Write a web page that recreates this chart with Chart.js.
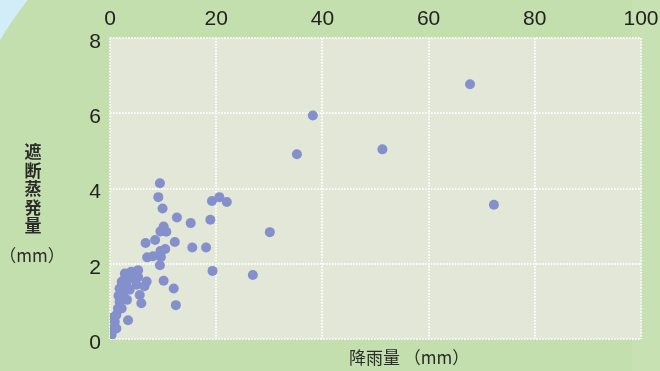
<!DOCTYPE html>
<html>
<head>
<meta charset="utf-8">
<script src="https://cdn.jsdelivr.net/npm/chart.js@4.4.1/dist/chart.umd.min.js"></script>
<style>
  html, body { margin: 0; padding: 0; background: #c4dfae; }
  #wrap { width: 660px; height: 371px; }
</style>
</head>
<body>
<div id="wrap"><canvas id="c" width="660" height="371"></canvas></div>
<script>
// 降雨量 (mm) per event
const rainfall = [
  2.8, 4.0, 5.3, 2.8, 2.2, 3.1, 4.3, 5.3, 1.8, 2.5,
  5.6, 5.9, 1.8, 1.5, 1.2, 2.2, 0.9, 0.6, 0.3, 1.2,
  3.4, 0.3, 6.9, 6.5, 5.0, 2.6, 3.2, 0.5, 1.6, 3.7,
  9.4, 9.1, 9.9, 12.6, 15.2, 18.9, 19.2, 20.6, 22.0, 10.1,
  9.5, 10.6, 8.5, 6.7, 12.2, 15.5, 18.1, 9.5, 10.4, 7.0,
  8.1, 9.6, 9.4, 10.1, 12.0, 12.4, 19.3, 26.9, 30.1, 35.2,
  38.2, 51.3, 67.8, 72.3
];
// 遮断蒸発量 (mm) per event
const interception = [
  1.74, 1.79, 1.83, 1.61, 1.52, 1.43, 1.61, 1.65, 1.34, 1.21,
  1.17, 0.95, 0.99, 0.81, 0.64, 0.81, 0.46, 0.28, 0.11, 0.28,
  0.50, 0.19, 1.53, 1.40, 1.44, 1.10, 1.04, 0.57, 1.15, 1.31,
  4.14, 3.77, 3.47, 3.23, 3.08, 3.17, 3.67, 3.77, 3.64, 2.99,
  2.86, 2.85, 2.63, 2.55, 2.58, 2.43, 2.43, 2.34, 2.39, 2.17,
  2.20, 2.18, 1.96, 1.55, 1.34, 0.90, 1.81, 1.70, 2.84, 4.91,
  5.94, 5.04, 6.77, 3.57
];
const xTicks = [0, 20, 40, 60, 80, 100];
const yTicks = [0, 2, 4, 6, 8];

const xTitle = '降雨量 （mm）';
const yTitleChars = ['遮', '断', '蒸', '発', '量'];
const yTitleUnit = '（mm）';

const points = rainfall.map((x, i) => ({ x: x, y: interception[i] }));

// page backdrop, plot panel and axis titles
const backdrop = {
  id: 'backdrop',
  beforeDraw(chart) {
    const ctx = chart.ctx;
    const W = chart.width, H = chart.height;
    const a = chart.chartArea;
    ctx.save();
    ctx.fillStyle = '#c4dfae';
    ctx.fillRect(0, 0, W, H);
    ctx.fillStyle = '#c7e1b2';
    ctx.fillRect(632, 0, W - 632, H);
    // pale blue corner outside the big arc
    ctx.save();
    ctx.beginPath();
    ctx.rect(0, 0, 120, 120);
    ctx.clip();
    ctx.beginPath();
    ctx.rect(0, 0, 120, 120);
    ctx.arc(320, 230, 372, 0, Math.PI * 2);
    ctx.fillStyle = '#d3edf8';
    ctx.fill('evenodd');
    ctx.restore();
    ctx.fillStyle = '#e3e7d8';
    ctx.fillRect(a.left, a.top, a.right - a.left, a.bottom - a.top);
    ctx.restore();
  },
  afterDraw(chart) {
    const ctx = chart.ctx;
    ctx.save();
    ctx.fillStyle = '#2b2b2b';
    ctx.font = '17px "Noto Sans CJK JP", "Noto Sans", sans-serif';
    ctx.textBaseline = 'middle';
    ctx.textAlign = 'left';
    ctx.fillText(xTitle, 349, 358);
    ctx.textAlign = 'center';
    ctx.font = 'bold 17px "Noto Sans CJK JP", "Noto Sans", sans-serif';
    yTitleChars.forEach((ch, i) => ctx.fillText(ch, 33, 152 + i * 18.5));
    ctx.font = '17px "Noto Sans CJK JP", "Noto Sans", sans-serif';
    ctx.fillText(yTitleUnit, 32, 256);
    ctx.restore();
  }
};

const gridStyle = {
  color: '#ffffff',
  lineWidth: 2,
  drawTicks: false
};
// dotted white grid lines; the axis edge lines themselves are hidden
const borderStyle = { display: false, dash: [1.5, 1.5] };

new Chart(document.getElementById('c'), {
  type: 'scatter',
  data: {
    datasets: [{
      data: points,
      backgroundColor: '#8490cc',
      borderWidth: 0,
      pointRadius: 5,
      pointHoverRadius: 5
    }]
  },
  options: {
    responsive: false,
    animation: false,
    events: [],
    layout: { padding: { left: 0, right: 19, top: 0, bottom: 32 } },
    plugins: { legend: { display: false }, tooltip: { enabled: false } },
    scales: {
      x: {
        type: 'linear',
        position: 'top',
        min: 0,
        max: 100,
        afterBuildTicks: s => { s.ticks = xTicks.map(v => ({ value: v })); },
        afterFit: s => { s.height = 38; s.paddingLeft = 0; s.paddingRight = 0; },
        grid: gridStyle,
        border: borderStyle,
        ticks: {
          padding: 6,
          color: '#222222',
          font: { family: '"Liberation Sans", Arial, sans-serif', size: 21 }
        }
      },
      y: {
        type: 'linear',
        min: 0,
        max: 8,
        afterBuildTicks: s => { s.ticks = yTicks.map(v => ({ value: v })); },
        afterFit: s => { s.width = 110; s.paddingTop = 0; s.paddingBottom = 0; },
        grid: gridStyle,
        border: borderStyle,
        ticks: {
          padding: 9,
          labelOffset: 4,
          color: '#222222',
          font: { family: '"Liberation Sans", Arial, sans-serif', size: 21 }
        }
      }
    }
  },
  plugins: [backdrop]
});
</script>
</body>
</html>
